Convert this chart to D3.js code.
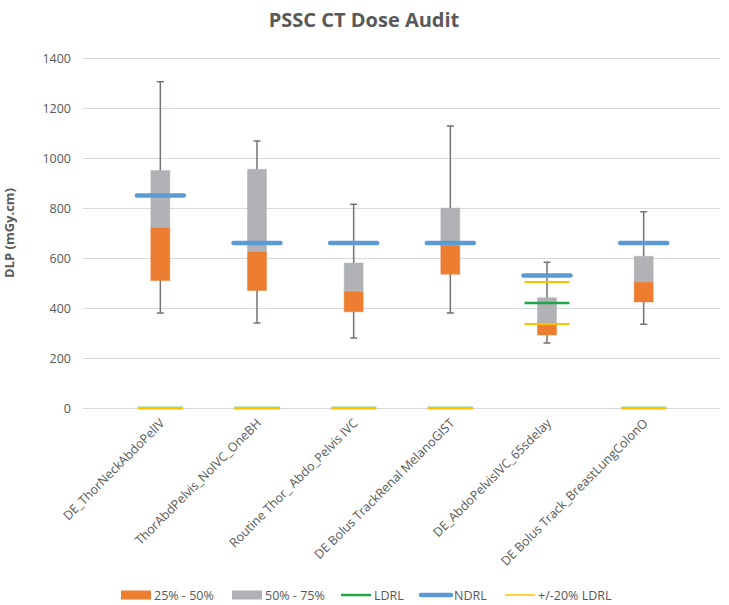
<html>
<head>
    <script src="https://d3js.org/d3.v7.min.js"></script>
    <style type="text/css">
        body { margin: 0; background: #fff; }
        text { font-family: "Open Sans", Lato, sans-serif; fill: #595959; }
        line.grid { stroke: #d9d9d9; stroke-width: 1; }
        line.whisker { stroke: #767171; stroke-width: 1.5; }
    </style>
</head>

<body>
    <svg></svg>

    <script>
        const Width = 729, Height = 605;

        // protocols
        const categories = [
            "DE_ThorNeckAbdoPelIV",
            "ThorAbdPelvis_NoIVC_OneBH",
            "Routine Thor_ Abdo_Pelvis IVC",
            "DE Bolus TrackRenal MelanoGIST",
            "DE_AbdoPelvisIVC_65sdelay",
            "DE Bolus Track_BreastLungColonO"
        ];
        // box plot stats (DLP mGy.cm)
        const minVals    = [380, 340, 280, 380, 260, 335];
        const q1Vals     = [510, 470, 385, 535, 292, 424];
        const medianVals = [720, 624, 465, 650, 339, 503];
        const q3Vals     = [950, 955, 580, 800, 441, 607];
        const maxVals    = [1305, 1068, 815, 1128, 583, 785];
        // reference levels
        const ldrl  = [0, 0, 0, 0, 420, 0];
        const ndrl  = [850, 660, 660, 660, 530, 660];
        const ldrlLow  = ldrl.map(v => v * 0.8);
        const ldrlHigh = ldrl.map(v => v * 1.2);

        const yTicks = [0, 200, 400, 600, 800, 1000, 1200, 1400];

        const Orange = "#ED7D31", Grey = "#B1B2B5", Green = "#1AA84A", Blue = "#5B9BD5", Yellow = "#FFC000";

        var svg = d3.select("svg").attr("width", Width).attr("height", Height);

        var y = d3.scaleLinear().domain([0, 1400]).range([408, 58]);
        var x = d3.scaleBand().domain(categories).range([112, 692]);
        const cx = (c) => x(c) + x.bandwidth()/2;

        svg.append("text")
            .attr("x", 364).attr("y", 27)
            .attr("text-anchor", "middle")
            .style("font-size", "20px").style("font-weight", "bold")
            .text("PSSC CT Dose Audit");

        // grid + y labels
        svg.selectAll("line.grid")
            .data(yTicks)
            .enter()
            .append("line").classed("grid", true)
                .attr("x1", 83).attr("x2", 720)
                .attr("y1", (d) => Math.round(y(d)) + 0.5)
                .attr("y2", (d) => Math.round(y(d)) + 0.5);

        svg.selectAll("text.ytick")
            .data(yTicks)
            .enter()
            .append("text").classed("ytick", true)
                .attr("x", 71).attr("y", (d) => y(d) + 4.5)
                .attr("text-anchor", "end")
                .style("font-size", "12.5px")
                .text((d) => d);

        svg.append("text")
            .attr("transform", "translate(14," + y(700) + ") rotate(-90)")
            .attr("text-anchor", "middle")
            .style("font-size", "13px").style("font-weight", "bold")
            .text("DLP (mGy.cm)");

        var rows = categories.map((c, i) => ({
            c: c, min: minVals[i], q1: q1Vals[i], med: medianVals[i], q3: q3Vals[i], max: maxVals[i],
            ldrl: ldrl[i], ndrl: ndrl[i], lo: ldrlLow[i], hi: ldrlHigh[i]
        }));

        const BoxW = 19, CapW = 7;

        var g = svg.selectAll("g.box")
            .data(rows)
            .enter()
            .append("g").classed("box", true);

        // whiskers
        g.append("line").classed("whisker", true)
            .attr("x1", (d) => cx(d.c)).attr("x2", (d) => cx(d.c))
            .attr("y1", (d) => y(d.max)).attr("y2", (d) => y(d.min));
        g.append("line").classed("whisker", true)
            .attr("x1", (d) => cx(d.c) - CapW/2).attr("x2", (d) => cx(d.c) + CapW/2)
            .attr("y1", (d) => y(d.max)).attr("y2", (d) => y(d.max));
        g.append("line").classed("whisker", true)
            .attr("x1", (d) => cx(d.c) - CapW/2).attr("x2", (d) => cx(d.c) + CapW/2)
            .attr("y1", (d) => y(d.min)).attr("y2", (d) => y(d.min));

        // boxes
        g.append("rect")
            .attr("x", (d) => cx(d.c) - BoxW/2).attr("width", BoxW)
            .attr("y", (d) => y(d.q3)).attr("height", (d) => y(d.med) - y(d.q3))
            .attr("fill", Grey).attr("stroke", Grey).attr("stroke-opacity", 0.45);
        g.append("rect")
            .attr("x", (d) => cx(d.c) - BoxW/2).attr("width", BoxW)
            .attr("y", (d) => y(d.med)).attr("height", (d) => y(d.q1) - y(d.med))
            .attr("fill", Orange).attr("stroke", Orange).attr("stroke-opacity", 0.45);

        // reference lines
        function refLine(key, color, w, thick)
        {
            g.append("line")
                .attr("x1", (d) => cx(d.c) - w/2).attr("x2", (d) => cx(d.c) + w/2)
                .attr("y1", (d) => y(d[key])).attr("y2", (d) => y(d[key]))
                .attr("stroke", color).attr("stroke-width", thick);
        }
        refLine("ldrl", Green, 45, 2.5);
        refLine("lo", Yellow, 45, 2);
        refLine("hi", Yellow, 45, 2);
        refLine("ndrl", Blue, 47, 4.5);
        g.select("line:last-child").attr("stroke-linecap", "round");

        // category labels
        svg.selectAll("text.xlab")
            .data(categories)
            .enter()
            .append("text").classed("xlab", true)
                .attr("transform", (d) => "translate(" + (cx(d) + 5) + ",424) rotate(-45)")
                .attr("text-anchor", "end")
                .style("font-size", "12.5px")
                .text((d) => d);

        // legend
        var legend = [
            { name: "25% - 50%", color: Orange, type: "box", x: 121 },
            { name: "50% - 75%", color: Grey, type: "box", x: 232 },
            { name: "LDRL", color: Green, type: "line", w: 2.5, x: 341 },
            { name: "NDRL", color: Blue, type: "line", w: 4.5, x: 421 },
            { name: "+/-20% LDRL", color: Yellow, type: "line", w: 1.5, x: 505 }
        ];
        var lg = svg.selectAll("g.legend")
            .data(legend)
            .enter()
            .append("g").classed("legend", true)
                .attr("transform", (d) => "translate(" + d.x + ",595)");
        lg.filter((d) => d.type == "box")
            .append("rect")
                .attr("x", 0).attr("y", -4.5).attr("width", 30).attr("height", 9)
                .attr("fill", (d) => d.color);
        lg.filter((d) => d.type == "line")
            .append("line")
                .attr("x1", 0).attr("x2", 30).attr("y1", 0).attr("y2", 0)
                .attr("stroke", (d) => d.color).attr("stroke-width", (d) => d.w)
                .attr("stroke-linecap", (d) => d.name == "NDRL" ? "round" : "butt");
        lg.append("text")
            .attr("x", 33).attr("y", 4.5)
            .style("font-size", "12.5px")
            .text((d) => d.name);
    </script>
</body>

</html>
